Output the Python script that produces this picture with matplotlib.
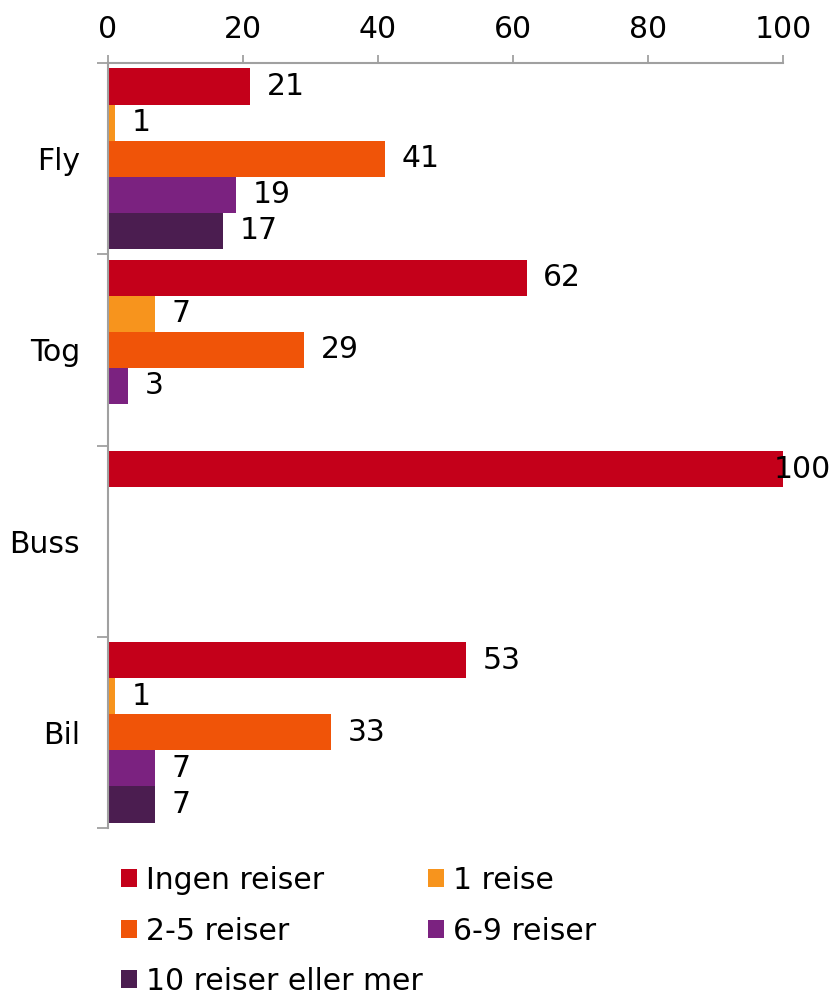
import numpy as np
import matplotlib
matplotlib.use('Agg')
import matplotlib.pyplot as plt

categories = ['Fly', 'Tog', 'Buss', 'Bil']
series = ['Ingen reiser', '1 reise', '2-5 reiser', '6-9 reiser', '10 reiser eller mer']
colors = ['#C4001A', '#F7941D', '#F05408', '#7B2280', '#4B1D50']

ingen = [21, 62, 100, 53]
en = [1, 7, 0, 1]
to_fem = [41, 29, 0, 33]
seks_ni = [19, 3, 0, 7]
ti_pluss = [17, 0, 0, 7]
values = [ingen, en, to_fem, seks_ni, ti_pluss]

fs = 21.5
plt.rcParams['font.family'] = 'DejaVu Sans'
plt.rcParams['font.size'] = fs

fig = plt.figure(figsize=(8.33, 9.99), dpi=100)
ax = fig.add_axes([108/833, 1-828/999, (783-108)/833, (828-63)/999])

y = np.arange(len(categories))
h = 0.1885
bars = []
for j, (name, vals, c) in enumerate(zip(series, values, colors)):
    pos = y + (j - 2) * h
    b = ax.barh(pos, vals, height=h, color=c, label=name)
    bars.append(b)
    for p, v in zip(pos, vals):
        if v == 0:
            continue
        # label for the full-width bar is pulled back so it stays in the figure
        off = 12 if v < 95 else -7
        ax.annotate(str(v), (v, p), xytext=(off, 0), textcoords='offset points',
                    va='center', ha='left', fontsize=fs, annotation_clip=False)

ax.set_xlim(0, 100)
ax.set_ylim(len(categories) - 0.5, -0.5)
ax.xaxis.tick_top()
ax.set_xticks(np.arange(0, 101, 20))
ax.tick_params(axis='x', length=6, color='#A0A0A0', width=1.3, pad=8, labelsize=fs)

ax.set_yticks(y)
ax.set_yticklabels(categories)
ax.set_yticks(np.arange(-0.5, len(categories)), minor=True)
ax.tick_params(axis='y', which='major', length=0, pad=20, labelsize=fs)
ax.tick_params(axis='y', which='minor', length=8, color='#A0A0A0', width=1.3)

for s in ['right', 'bottom']:
    ax.spines[s].set_visible(False)
for s in ['top', 'left']:
    ax.spines[s].set_color('#A0A0A0')
    ax.spines[s].set_linewidth(1.5)

order = [0, 2, 4, 1, 3]
fig.legend([bars[i] for i in order], [series[i] for i in order], ncol=2,
           loc='upper left', bbox_to_anchor=(121/833, 1-866/999), frameon=False,
           borderaxespad=0, borderpad=0, handlelength=0.55, handleheight=0.55,
           handletextpad=0.3, columnspacing=0.15, labelspacing=0.72, fontsize=fs)

fig.savefig('out.png', dpi=100)
